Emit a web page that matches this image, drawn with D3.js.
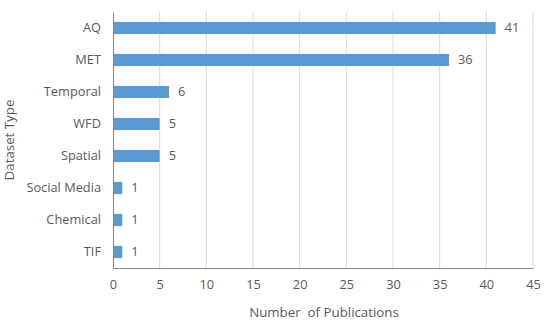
<!DOCTYPE html>
<html>
<head>
<meta charset="utf-8">
<script src="https://cdn.jsdelivr.net/npm/d3@7"></script>
<style>
  body { margin: 0; background: #fff; }
  text { font-family: "Open Sans", sans-serif; fill: #595959; }
</style>
</head>
<body>
<div id="chart"></div>
<script>
const categories = ['AQ', 'MET', 'Temporal', 'WFD', 'Spatial', 'Social Media', 'Chemical', 'TIF'];
const counts = [41, 36, 6, 5, 5, 1, 1, 1];
const xTicks = [0, 5, 10, 15, 20, 25, 30, 35, 40, 45];

const W = 550, H = 323;
const margin = { top: 12, right: 17, bottom: 55, left: 113 };
const width = W - margin.left - margin.right;
const height = H - margin.top - margin.bottom;
const fs = 12.8;

const svg = d3.select('#chart').append('svg')
  .attr('width', W)
  .attr('height', H);

const g = svg.append('g')
  .attr('transform', `translate(${margin.left}, ${margin.top})`);

const x = d3.scaleLinear().domain([0, 45]).range([0, width]);
const y = d3.scaleBand().domain(categories).range([0, height]).paddingInner(0.62).paddingOuter(0.31);

// gridlines
g.selectAll('.grid')
  .data(xTicks.slice(1))
  .enter()
  .append('line')
    .attr('x1', d => x(d))
    .attr('x2', d => x(d))
    .attr('y1', 0)
    .attr('y2', height)
    .attr('stroke', '#d9d9d9')
    .attr('stroke-width', 1);

// bars
g.selectAll('.bar')
  .data(counts)
  .enter()
  .append('rect')
    .attr('x', 0)
    .attr('y', (d, i) => y(categories[i]))
    .attr('width', d => x(d))
    .attr('height', y.bandwidth())
    .attr('fill', '#5b9bd5');

// value labels
g.selectAll('.val')
  .data(counts)
  .enter()
  .append('text')
    .attr('x', d => x(d) + 9)
    .attr('y', (d, i) => y(categories[i]) + y.bandwidth() / 2)
    .attr('dy', '0.35em')
    .attr('font-size', fs)
    .text(d => d);

// x axis
const xAxis = g.append('g')
  .attr('transform', `translate(0, ${height})`)
  .call(d3.axisBottom(x).tickValues(xTicks).tickSize(0).tickPadding(12));
xAxis.select('.domain').attr('stroke', '#868686');
xAxis.selectAll('text').attr('font-size', fs).style('font-family', '"Open Sans", sans-serif').attr('fill', '#595959');

// y axis
const yAxis = g.append('g')
  .call(d3.axisLeft(y).tickSize(0).tickPadding(12));
yAxis.select('.domain').attr('stroke', '#868686');
yAxis.selectAll('text').attr('font-size', fs).style('font-family', '"Open Sans", sans-serif').attr('fill', '#595959');

// axis titles
svg.append('text')
  .attr('x', 324)
  .attr('y', 317)
  .attr('text-anchor', 'middle')
  .attr('font-size', 13.3)
  .style('white-space', 'pre')
  .text('Number  of Publications');

svg.append('text')
  .attr('transform', `translate(14, 140) rotate(-90)`)
  .attr('text-anchor', 'middle')
  .attr('font-size', 13.3)
  .text('Dataset Type');
</script>
</body>
</html>
